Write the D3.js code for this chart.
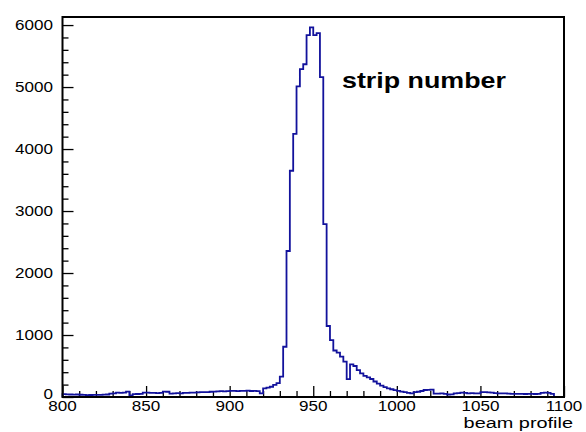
<!DOCTYPE html>
<html>
<head>
<meta charset="utf-8">
<script src="https://cdn.jsdelivr.net/npm/d3@7"></script>
<style>
  html, body { margin: 0; padding: 0; background: #fff; }
  text { font-family: "Liberation Sans", Arial, Helvetica, sans-serif; }
</style>
</head>
<body>
<div id="chart"></div>
<script>
// histogram: 150 bins of width 2 from 800 to 1100
const xMin = 800;
const xMax = 1100;
const binWidth = 2;

// counts per bin
const leftTail = [
  45, 42, 40, 38, 40, 36, 35, 30, 32, 35,   // 800-818
  33, 35, 38, 40, 55, 60, 70, 68, 72, 86,   // 820-838
  25, 45, 48, 50, 72, 70, 68, 65, 62, 65,   // 840-858
  88, 85, 55, 60, 62, 58, 65, 68, 70, 72,   // 860-878
  75, 78, 80, 78, 85, 88, 92, 95, 90, 95,   // 880-898
  98, 100, 95, 98, 100, 102, 97, 100, 95, 60, // 900-918
  140, 150, 165, 194, 225, 328               // 920-930
];
const peak = [
  811, 2355, 3650, 4245, 5010, 5288, 5368, 5839, 5962, 5839, // 932-950
  5870, 5160, 2790, 1145                                     // 952-958
];
const rightTail = [
  919, 750, 715, 650, 570, 288, 527, 500, 435, 380,  // 960-978
  340, 318, 290, 250, 215, 185, 160, 140, 125, 112,  // 980-998
  100, 88, 78, 65, 60, 80, 85, 97, 113, 115,         // 1000-1018
  120, 55, 55, 60, 50, 40, 42, 60, 62, 70,           // 1020-1038
  68, 60, 62, 58, 60, 78, 78, 75, 70, 62,            // 1040-1058
  60, 58, 60, 55, 50, 52, 50, 52, 48, 50,            // 1060-1078
  50, 48, 52, 65, 70, 68, 50, 0, 0, 0                // 1080-1098
];
const counts = leftTail.concat(peak, rightTail);

const xMajorTicks = [800, 850, 900, 950, 1000, 1050, 1100];
const yMajorTicks = [0, 1000, 2000, 3000, 4000, 5000, 6000];
const yMax = 6130;

const xTitle = "beam profile";
const histTitle = "strip number";

// layout
const width = 586;
const height = 432;
const frame = { left: 62.5, right: 564, top: 17, bottom: 397 };
const stretch = 1.22; // text in the reference is stretched sideways

const svg = d3.select("#chart")
  .append("svg")
  .attr("width", width)
  .attr("height", height);

svg.append("rect")
  .attr("width", width)
  .attr("height", height)
  .attr("fill", "#fff");

const x = d3.scaleLinear().domain([xMin, xMax]).range([frame.left, frame.right]);
const y = d3.scaleLinear().domain([0, yMax]).range([frame.bottom, frame.top]);

// minor ticks
const xMinor = d3.range(xMin, xMax + 0.1, 10).filter(v => v % 50 !== 0);
const yMinor = d3.range(0, yMax, 200).filter(v => v % 1000 !== 0);

svg.append("g")
  .attr("transform", `translate(0,${frame.bottom})`)
  .call(d3.axisBottom(x).tickValues(xMajorTicks).tickSize(-11).tickFormat(""))
  .call(g => g.select(".domain").remove());
svg.append("g")
  .attr("transform", `translate(0,${frame.bottom})`)
  .call(d3.axisBottom(x).tickValues(xMinor).tickSize(-6).tickFormat(""))
  .call(g => g.select(".domain").remove());
svg.append("g")
  .attr("transform", `translate(${frame.left},0)`)
  .call(d3.axisLeft(y).tickValues(yMajorTicks).tickSize(-11).tickFormat(""))
  .call(g => g.select(".domain").remove());
svg.append("g")
  .attr("transform", `translate(${frame.left},0)`)
  .call(d3.axisLeft(y).tickValues(yMinor).tickSize(-6).tickFormat(""))
  .call(g => g.select(".domain").remove());
svg.selectAll(".tick line").attr("stroke", "#000").attr("stroke-width", 1.3);

// histogram outline
const pts = [[xMin, 0]];
counts.forEach((c, i) => pts.push([xMin + i * binWidth, c]));
pts.push([xMax, 0]);

const line = d3.line()
  .x(d => x(d[0]))
  .y(d => y(d[1]))
  .curve(d3.curveStepAfter);

svg.append("path")
  .datum(pts)
  .attr("d", line)
  .attr("fill", "none")
  .attr("stroke", "#12129c")
  .attr("stroke-width", 1.8);

// frame
svg.append("rect")
  .attr("x", frame.left)
  .attr("y", frame.top)
  .attr("width", frame.right - frame.left)
  .attr("height", frame.bottom - frame.top)
  .attr("fill", "none")
  .attr("stroke", "#000")
  .attr("stroke-width", 2);

// tick labels ("0" sits a little higher, as ROOT draws it)
svg.selectAll(".ylab")
  .data(yMajorTicks)
  .enter()
  .append("text")
  .attr("class", "ylab")
  .attr("transform", d => `translate(53,${Math.min(y(d) + 5, 399)}) scale(${stretch},1)`)
  .attr("text-anchor", "end")
  .attr("font-size", 14)
  .text(d => d);

svg.selectAll(".xlab")
  .data(xMajorTicks)
  .enter()
  .append("text")
  .attr("class", "xlab")
  .attr("transform", d => `translate(${x(d)},${frame.bottom + 14}) scale(${stretch},1)`)
  .attr("text-anchor", "middle")
  .attr("font-size", 14)
  .text(d => d);

// axis title
svg.append("text")
  .attr("transform", `translate(573,428) scale(1.42,1)`)
  .attr("text-anchor", "end")
  .attr("font-size", 14)
  .text(xTitle);

// histogram title
svg.append("text")
  .attr("transform", `translate(342,88) scale(${stretch},1)`)
  .attr("font-size", 22)
  .attr("font-weight", "bold")
  .text(histTitle);
</script>
</body>
</html>
